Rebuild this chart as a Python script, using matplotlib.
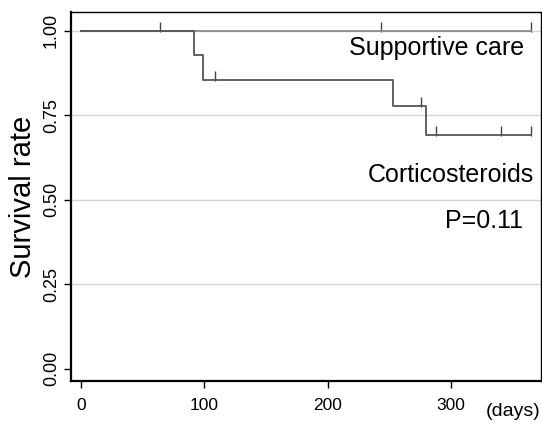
import numpy as np
import matplotlib
matplotlib.use("Agg")
import matplotlib.pyplot as plt

plt.rcParams['font.family'] = ['Liberation Sans', 'DejaVu Sans']

# Kaplan-Meier curves (days, survival)
supp_t = [0, 365]
supp_s = [1.0, 1.0]
supp_cens = [243, 365]

cort_t = [0, 92, 99, 253, 280, 365]
cort_s = [1.0, 0.93, 0.856, 0.779, 0.691, 0.691]
cort_cens_t = [64, 109, 276, 288, 341, 365]
cort_cens_s = [1.0, 0.856, 0.779, 0.691, 0.691, 0.691]

xticks = [0, 100, 200, 300]
yticks = [0.00, 0.25, 0.50, 0.75, 1.00]

fig = plt.figure(figsize=(5.42, 4.24), dpi=100)
ax = fig.add_axes([0.131, 0.1014, 0.867, 0.8703])

for y in [0.25, 0.5, 0.75, 1.0]:
    ax.axhline(y, color='#d4d4d4', lw=1.0, zorder=0)

ax.step(supp_t, supp_s, where='post', color='#8a8a8a', lw=1.3)
ax.step(cort_t, cort_s, where='post', color='#555555', lw=1.3)
ax.scatter(supp_cens, [1.012] * len(supp_cens), marker='|', s=50, color='#444444', linewidths=1.0)
ax.scatter(cort_cens_t, [s + 0.012 for s in cort_cens_s], marker='|', s=50, color='#444444', linewidths=1.0)

ax.set_xlim(-8.1, 373)
ax.set_ylim(-0.036, 1.056)
ax.set_xticks(xticks)
ax.set_xticklabels([str(v) for v in xticks], fontsize=12.5)
ax.set_yticks(yticks)
ax.set_yticklabels(['%.2f' % v for v in yticks], fontsize=13, rotation=90, va='center')
ax.tick_params(axis='both', direction='out', length=5, width=1.0, color='black')
ax.tick_params(axis='x', pad=7)
ax.tick_params(axis='y', pad=3)

for side in ['left', 'bottom']:
    ax.spines[side].set_linewidth(1.6)
for side in ['top', 'right']:
    ax.spines[side].set_linewidth(1.0)

ax.set_ylabel('Survival rate', fontsize=21, labelpad=4)

ax.text(0.965, 0.902, 'Supportive care', transform=ax.transAxes, ha='right', va='center', fontsize=18)
ax.text(0.985, 0.558, 'Corticosteroids', transform=ax.transAxes, ha='right', va='center', fontsize=18)
ax.text(0.961, 0.434, 'P=0.11', transform=ax.transAxes, ha='right', va='center', fontsize=18)
fig.text(0.998, 0.03, '(days)', ha='right', va='center', fontsize=14)

fig.savefig('out.png', dpi=100)
